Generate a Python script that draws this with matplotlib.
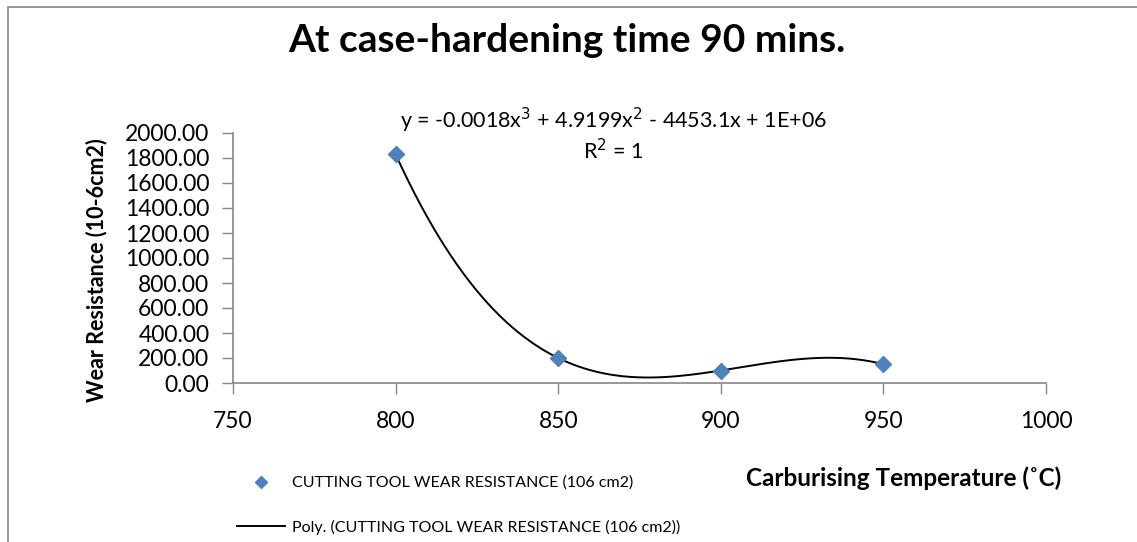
import numpy as np
import matplotlib
matplotlib.use('Agg')
import matplotlib.pyplot as plt
from matplotlib.patches import Rectangle
from matplotlib.lines import Line2D

plt.rcParams['font.family'] = ['Lato', 'DejaVu Sans']

# Dane z wykresu
temp = np.array([800, 850, 900, 950])
wear = np.array([1830, 200, 100, 150])

x_ticks = [750, 800, 850, 900, 950, 1000]
y_ticks = np.arange(0, 2001, 200)

title = 'At case-hardening time 90 mins.'
eq_text = 'y = -0.0018x$^3$ + 4.9199x$^2$ - 4453.1x + 1E+06'
r2_text = 'R$^2$ = 1'
series_name = 'CUTTING TOOL WEAR RESISTANCE (106 cm2)'
trend_name = 'Poly. (CUTTING TOOL WEAR RESISTANCE (106 cm2))'

# wielomian 3 stopnia (linia trendu)
coef = np.polyfit(temp, wear, 3)
t_new = np.linspace(temp.min(), temp.max(), 400)
w_new = np.polyval(coef, t_new)

W, H = 1137, 542
fig = plt.figure(figsize=(W / 100, H / 100), dpi=100)
ax = fig.add_axes([233 / W, (H - 383) / H, (1046 - 233) / W, 250 / H])

ax.plot(t_new, w_new, '-', color='black', linewidth=1.4, zorder=2)
ax.plot(temp, wear, 'D', color='#4F81BD', markersize=8.5, zorder=3)

ax.set_xlim(750, 1000)
ax.set_ylim(0, 2000)
ax.set_xticks(x_ticks)
ax.set_yticks(y_ticks)
ax.set_yticklabels(['%.2f' % v for v in y_ticks])
ax.tick_params(axis='both', direction='out', color='#868686', length=8,
               width=1, labelsize=16.5, colors='#868686', labelcolor='black')
ax.tick_params(axis='y', pad=9)
ax.tick_params(axis='x', pad=12)
for s in ['top', 'right']:
    ax.spines[s].set_visible(False)
for s in ['left', 'bottom']:
    ax.spines[s].set_color('#868686')
    ax.spines[s].set_linewidth(1.2)

fig.text(97 / W, 1 - 270 / H, 'Wear Resistance (10-6cm2)', rotation=90, ha='center',
         va='center', fontsize=15.5, fontweight='bold')

fig.text(567 / W, 1 - 40 / H, title, ha='center', va='center',
         fontsize=28, fontweight='bold')
fig.text(613 / W, 1 - 120 / H, eq_text, ha='center', va='center', fontsize=15.5)
fig.text(613 / W, 1 - 151 / H, r2_text, ha='center', va='center', fontsize=15.5)
fig.text(904 / W, 1 - 478 / H, 'Carburising Temperature (˚C)', ha='center',
         va='center', fontsize=17.5, fontweight='bold')

# legenda (dwa wpisy osobno, jak w Excelu)
h1 = Line2D([], [], linestyle='none', marker='D', color='#4F81BD', markersize=6.5)
h2 = Line2D([], [], color='black', linewidth=1.4)
for h, name, y in [(h1, series_name, 483), (h2, trend_name, 527)]:
    fig.legend([h], [name], loc='center left',
               bbox_to_anchor=(237 / W, 1 - y / H), frameon=False,
               fontsize=11.5, handlelength=3.0, handletextpad=0.45, borderpad=0,
               borderaxespad=0)

# ramka wykresu
fig.patches.append(Rectangle((8 / W, -0.1), 1.2, 1 - 7 / H + 0.1, transform=fig.transFigure,
                             fill=False, edgecolor='#868686', linewidth=1.2))

fig.savefig('out.png', dpi=100)
